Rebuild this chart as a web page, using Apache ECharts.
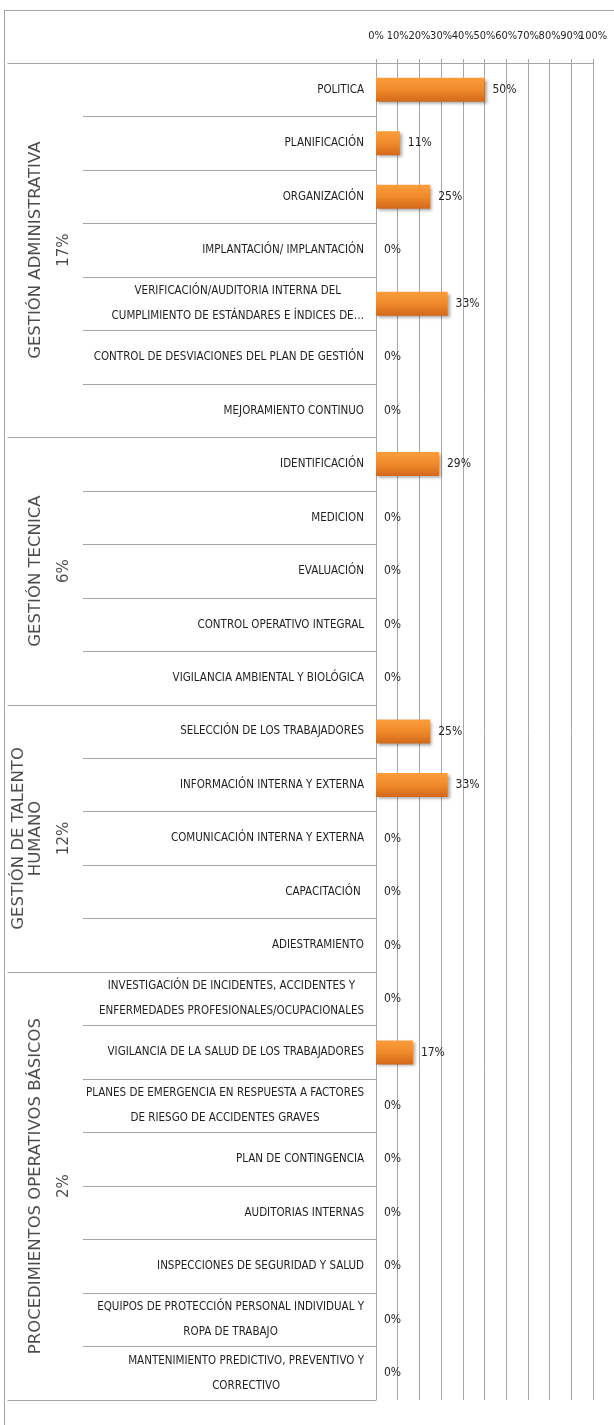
<!DOCTYPE html>
<html>
<head>
<meta charset="utf-8">
<script src="https://cdn.jsdelivr.net/npm/echarts@6.0.0/dist/echarts.min.js"></script>
<style>
  html, body { margin: 0; padding: 0; background: #fff; overflow: hidden; }
  #wrap { position: relative; width: 614px; height: 1425px; }
  /* marco exterior del grafico */
  .frame { position: absolute; left: 4px; top: 10px; width: 700px; height: 1500px; border: 1px solid #a6a6a6; }
  #main { position: absolute; left: 0; top: 0; width: 614px; height: 1425px; }
</style>
</head>
<body>
<div id="wrap">
  <div class="frame"></div>
  <div id="main"></div>
</div>
<script>
var categorias = [
  "POLITICA",
  "PLANIFICACIÓN",
  "ORGANIZACIÓN",
  "IMPLANTACIÓN/ IMPLANTACIÓN",
  "VERIFICACIÓN/AUDITORIA INTERNA DEL\nCUMPLIMIENTO DE ESTÁNDARES E ÍNDICES DE…",
  "CONTROL DE DESVIACIONES DEL PLAN DE GESTIÓN",
  "MEJORAMIENTO CONTINUO",
  "IDENTIFICACIÓN",
  "MEDICION",
  "EVALUACIÓN",
  "CONTROL OPERATIVO INTEGRAL",
  "VIGILANCIA AMBIENTAL Y BIOLÓGICA",
  "SELECCIÓN DE LOS TRABAJADORES",
  "INFORMACIÓN INTERNA Y EXTERNA",
  "COMUNICACIÓN INTERNA Y EXTERNA",
  "CAPACITACIÓN ",
  "ADIESTRAMIENTO",
  "INVESTIGACIÓN DE INCIDENTES, ACCIDENTES Y\nENFERMEDADES PROFESIONALES/OCUPACIONALES",
  "VIGILANCIA DE LA SALUD DE LOS TRABAJADORES",
  "PLANES DE EMERGENCIA EN RESPUESTA A FACTORES\nDE RIESGO DE ACCIDENTES GRAVES",
  "PLAN DE CONTINGENCIA",
  "AUDITORIAS INTERNAS",
  "INSPECCIONES DE SEGURIDAD Y SALUD",
  "EQUIPOS DE PROTECCIÓN PERSONAL INDIVIDUAL Y\nROPA DE TRABAJO",
  "MANTENIMIENTO PREDICTIVO, PREVENTIVO Y\nCORRECTIVO"
];
var valores = [50, 11, 25, 0, 33, 0, 0, 29, 0, 0, 0, 0, 25, 33, 0, 0, 0, 0, 17, 0, 0, 0, 0, 0, 0];

var grupos = ["GESTIÓN ADMINISTRATIVA", "GESTIÓN TECNICA", "GESTIÓN DE TALENTO\nHUMANO", "PROCEDIMIENTOS OPERATIVOS BÁSICOS"];
var grupoCantidad = [7, 5, 5, 8];
var grupoPct = ["17%", "6%", "12%", "2%"];

// etiquetas del eje superior, repartidas en dos ejes para que no se oculten al tocarse
var ticksPares = [0, 20, 40, 60, 80, 100];
var ticksImpares = [10, 30, 50, 70, 90];

var fuente = "'DejaVu Sans Condensed', sans-serif";
var gris = "#a6a6a6";
var texto = "#1f1f1f";

// limites y centros de los grupos (en unidades de categoria)
var limites = [0];
var centros = [];
for (var i = 0; i < grupoCantidad.length; i++) {
  var ini = limites[limites.length - 1];
  limites.push(ini + grupoCantidad[i]);
  centros.push([1, ini + grupoCantidad[i] / 2, i]);
}

var etiquetaEje = {
  formatter: "{value}%",
  margin: 21,
  color: texto,
  fontFamily: fuente,
  fontSize: 11
};

var chart = echarts.init(document.getElementById("main"));
var option = {
  animation: false,
  grid: [
    { left: 376, right: 21, top: 63, bottom: 25 },
    { left: 8, width: 75.5, top: 63, bottom: 25 },
    { left: 376, right: 21, top: 63, bottom: 25 }
  ],
  xAxis: [
    {
      gridIndex: 0,
      type: "value",
      position: "top",
      min: 0,
      max: 100,
      interval: 10,
      axisLine: { show: true, lineStyle: { color: gris } },
      axisTick: { show: true, length: 4, lineStyle: { color: gris } },
      axisLabel: Object.assign({ customValues: ticksPares }, etiquetaEje),
      splitLine: { show: true, lineStyle: { color: gris } }
    },
    { gridIndex: 1, type: "value", min: 0, max: 1, show: false },
    {
      gridIndex: 2,
      type: "value",
      position: "top",
      min: 0,
      max: 100,
      interval: 10,
      axisLine: { show: false },
      axisTick: { show: false },
      splitLine: { show: false },
      axisLabel: Object.assign({ customValues: ticksImpares }, etiquetaEje)
    }
  ],
  yAxis: [
    {
      gridIndex: 0,
      type: "category",
      inverse: true,
      data: categorias,
      axisLine: { show: true, lineStyle: { color: gris } },
      axisTick: { show: true, interval: 0, length: 293, lineStyle: { color: gris } },
      axisLabel: {
        interval: 0,
        margin: 12,
        formatter: function (v) {
          return v.split("\n").map(function (s) { return "{c|" + s + "}"; }).join("\n");
        },
        rich: {
          c: { align: "center", color: texto, fontFamily: fuente, fontSize: 11.5, lineHeight: 25 }
        }
      }
    },
    {
      gridIndex: 1,
      type: "value",
      inverse: true,
      position: "right",
      min: 0,
      max: categorias.length,
      axisLine: { show: false, onZero: false },
      axisLabel: { show: false },
      splitLine: { show: false },
      axisTick: {
        show: true,
        inside: true,
        length: 76,
        customValues: limites,
        lineStyle: { color: gris }
      }
    },
    { gridIndex: 2, type: "value", show: false }
  ],
  series: [
    {
      type: "bar",
      xAxisIndex: 0,
      yAxisIndex: 0,
      data: valores,
      barWidth: 24,
      itemStyle: {
        color: new echarts.graphic.LinearGradient(0, 0, 0, 1, [
          { offset: 0, color: "#fb9d3c" },
          { offset: 0.5, color: "#f08a2a" },
          { offset: 1, color: "#d2681b" }
        ]),
        shadowColor: "rgba(0,0,0,0.35)",
        shadowBlur: 3,
        shadowOffsetX: 2,
        shadowOffsetY: 2
      },
      label: {
        show: true,
        position: "right",
        distance: 8,
        formatter: "{c}%",
        color: texto,
        fontFamily: fuente,
        fontSize: 12
      }
    },
    {
      // etiquetas de los grupos (texto vertical)
      type: "scatter",
      xAxisIndex: 1,
      yAxisIndex: 1,
      data: centros,
      symbolSize: 1,
      itemStyle: { color: "rgba(0,0,0,0)" },
      silent: true,
      label: {
        show: true,
        position: "inside",
        rotate: 90,
        align: "center",
        verticalAlign: "bottom",
        formatter: function (p) {
          var k = p.value[2];
          var lineas = grupos[k].split("\n").map(function (s) { return "{n|" + s + "}"; });
          return lineas.join("\n") + "\n{p|" + grupoPct[k] + "}";
        },
        rich: {
          n: { fontFamily: "'DejaVu Sans', sans-serif", fontSize: 16.5, lineHeight: 17, color: texto },
          p: { fontFamily: "'DejaVu Sans', sans-serif", fontSize: 15, lineHeight: 39, color: texto }
        }
      }
    }
  ]
};
chart.setOption(option);
</script>
</body>
</html>
